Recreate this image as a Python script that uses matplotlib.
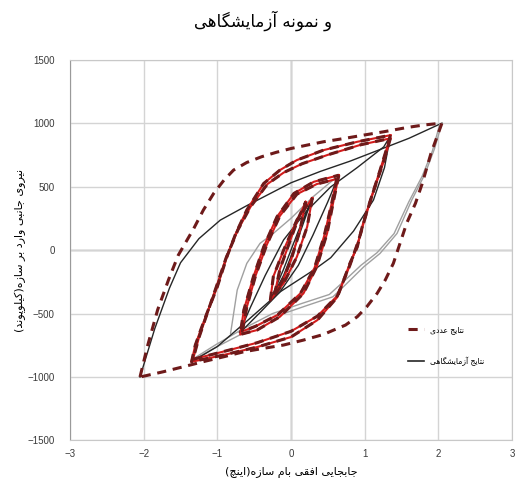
"""Hysteresis comparison: numerical vs. experimental (Persian labels)."""

import matplotlib
matplotlib.use("Agg")
import matplotlib.pyplot as plt  # noqa: E402
from matplotlib.lines import Line2D  # noqa: E402

DASH = "#6e1a1a"
RED = "#d21c1c"
BLACK = "#262626"
GRAY = "#a0a0a0"

# ---- numerical loops (dashed) ----
num5_x = [-2.05, -1.95, -1.81, -1.66, -1.53, -1.43, -1.32, -1.19, -1.05, -0.91, -0.78, -0.60,
          -0.40, -0.20, 0.0, 0.22, 0.44, 0.72, 0.99, 1.26, 1.57, 1.80, 2.05,
          1.90, 1.78, 1.69, 1.57, 1.48, 1.39, 1.28, 1.17, 1.03, 0.90, 0.74, 0.58, 0.44,
          0.17, -0.10, -0.37, -0.64, -0.91, -1.19, -1.46, -1.73, -2.05]
num5_y = [-1000, -760, -470, -230, -40, 60, 170, 315, 446, 551, 630, 690,
          735, 770, 800, 827, 853, 879, 906, 932, 965, 985, 1000,
          760, 520, 368, 210, 52, -105, -236, -341, -446, -525, -591, -630, -665,
          -709, -748, -774, -801, -840, -879, -919, -958, -1000]

num4_x = [1.35, 1.30, 1.21, 1.08, 0.98, 0.90, 0.80, 0.63, 0.36, 0.0, -0.46, -0.92, -1.35,
          -1.30, -1.22, -1.14, -1.0, -0.87, -0.75, -0.60, -0.37, -0.15, 0.08, 0.44, 0.90, 1.35]
num4_y = [905, 800, 630, 394, 213, 24, -105, -370, -551, -685, -764, -827, -880,
          -750, -620, -496, -289, -53, 130, 315, 525, 630, 709, 787, 853, 905]

num4b_x = [1.35, 1.26, 1.13, 1.02, 0.92, 0.80, 0.63, 0.36, 0.0, -0.46, -0.92, -1.33,
           -1.25, -1.15, -1.02, -0.88, -0.72, -0.55, -0.32, -0.10, 0.15, 0.50, 0.95, 1.35]
num4b_y = [880, 700, 480, 280, 80, -120, -360, -520, -640, -730, -800, -860,
           -690, -520, -300, -60, 160, 340, 520, 610, 680, 750, 830, 880]

num3_x = [0.65, 0.58, 0.49, 0.35, 0.17, -0.15, -0.46, -0.69,
          -0.64, -0.51, -0.37, -0.19, 0.04, 0.31, 0.65]
num3_y = [590, 394, 131, -131, -341, -525, -630, -665,
          -472, -210, 26, 262, 446, 538, 590]

num3b_x = [0.62, 0.55, 0.45, 0.32, 0.13, -0.18, -0.48, -0.66,
           -0.60, -0.48, -0.33, -0.15, 0.08, 0.35, 0.62]
num3b_y = [560, 360, 110, -140, -340, -510, -600, -640,
           -450, -200, 40, 270, 440, 520, 560]

num2_x = [0.29, 0.22, 0.08, -0.10, -0.28, -0.24, -0.10, 0.08, 0.29]
num2_y = [410, 184, -53, -262, -394, -210, 0, 236, 410]

num1_x = [0.20, 0.12, 0.0, -0.12, -0.22, -0.15, -0.02, 0.10, 0.20]
num1_y = [380, 150, -80, -250, -340, -150, 60, 250, 380]

# ---- experimental curves (solid) ----
exp_load5_x = [-2.05, -1.85, -1.65, -1.50, -1.25, -0.96, -0.60, -0.30, 0.0, 0.40, 0.80, 1.20, 1.60, 2.05]
exp_load5_y = [-1000, -620, -300, -100, 90, 236, 350, 440, 530, 620, 700, 790, 880, 1000]

exp_unl5_x = [2.05, 1.95, 1.82, 1.64, 1.44, 1.21, 0.99, 0.76, 0.57, 0.20, -0.20, -0.60, -1.00, -1.35]
exp_unl5_y = [1000, 800, 600, 394, 131, -26, -131, -262, -368, -440, -520, -640, -760, -870]

exp_unl5b_x = [2.02, 1.92, 1.78, 1.60, 1.40, 1.17, 0.95, 0.72, 0.52, 0.15, -0.25, -0.65, -1.02, -1.35]
exp_unl5b_y = [990, 780, 580, 380, 130, -20, -120, -245, -350, -420, -500, -620, -745, -865]

exp_load4_x = [-1.35, -1.00, -0.60, -0.15, 0.31, 0.54, 0.85, 1.12, 1.27, 1.35]
exp_load4_y = [-880, -760, -560, -330, -157, -60, 150, 394, 650, 900]

exp_unl4_x = [1.35, 1.26, 0.90, 0.54, 0.20, -0.10, -0.35, -0.55, -0.70]
exp_unl4_y = [900, 813, 650, 498, 300, 80, -200, -450, -650]

exp_gray3_x = [-0.82, -0.73, -0.60, -0.42, -0.24, 0.0, 0.30, 0.65]
exp_gray3_y = [-656, -315, -105, 53, 131, 250, 420, 590]

exp_unl3_x = [0.65, 0.50, 0.30, 0.10, -0.15, -0.40, -0.69]
exp_unl3_y = [590, 380, 120, -120, -330, -480, -650]

exp_in_x = [0.29, 0.10, -0.10, -0.28, -0.10, 0.10, 0.29]
exp_in_y = [410, 150, -150, -394, -200, 100, 410]

TITLE = "و نمونه آزمایشگاهی"
XLABEL = "جابجایی افقی بام سازه(اینچ)"
YLABEL = "نیروی جانبی وارد بر سازه(کیلوپوند)"
LEG_NUM = "نتایج عددی"
LEG_EXP = "نتایج آزمایشگاهی"

x_ticks = [-3, -2, -1, 0, 1, 2, 3]
y_ticks = [-1500, -1000, -500, 0, 500, 1000, 1500]

# minimal Arabic/Persian shaper: (isolated, final, initial, medial); two forms = right-joining
_FORMS = {
    "ا": ("\uFE8D", "\uFE8E"), "آ": ("\uFE81", "\uFE82"),
    "د": ("\uFEA9", "\uFEAA"), "ر": ("\uFEAD", "\uFEAE"),
    "ز": ("\uFEAF", "\uFEB0"), "و": ("\uFEED", "\uFEEE"),
    "ب": ("\uFE8F", "\uFE90", "\uFE91", "\uFE92"),
    "ت": ("\uFE95", "\uFE96", "\uFE97", "\uFE98"),
    "ج": ("\uFE9D", "\uFE9E", "\uFE9F", "\uFEA0"),
    "س": ("\uFEB1", "\uFEB2", "\uFEB3", "\uFEB4"),
    "ش": ("\uFEB5", "\uFEB6", "\uFEB7", "\uFEB8"),
    "ع": ("\uFEC9", "\uFECA", "\uFECB", "\uFECC"),
    "ف": ("\uFED1", "\uFED2", "\uFED3", "\uFED4"),
    "ق": ("\uFED5", "\uFED6", "\uFED7", "\uFED8"),
    "ل": ("\uFEDD", "\uFEDE", "\uFEDF", "\uFEE0"),
    "م": ("\uFEE1", "\uFEE2", "\uFEE3", "\uFEE4"),
    "ن": ("\uFEE5", "\uFEE6", "\uFEE7", "\uFEE8"),
    "ه": ("\uFEE9", "\uFEEA", "\uFEEB", "\uFEEC"),
    "ی": ("\uFBFC", "\uFBFD", "\uFBFE", "\uFBFF"),
    "پ": ("\uFB56", "\uFB57", "\uFB58", "\uFB59"),
    "چ": ("\uFB7A", "\uFB7B", "\uFB7C", "\uFB7D"),
    "ک": ("\uFB8E", "\uFB8F", "\uFB90", "\uFB91"),
    "گ": ("\uFB92", "\uFB93", "\uFB94", "\uFB95"),
}


def fa(text):
    out = []
    for i, ch in enumerate(text):
        forms = _FORMS.get(ch)
        if forms is None:
            out.append(ch)
            continue
        prev = text[i - 1] if i > 0 else ""
        nxt = text[i + 1] if i + 1 < len(text) else ""
        join_prev = prev in _FORMS and len(_FORMS[prev]) == 4
        join_next = len(forms) == 4 and nxt in _FORMS
        if join_prev and join_next:
            out.append(forms[3])
        elif join_prev:
            out.append(forms[1])
        elif join_next:
            out.append(forms[2])
        else:
            out.append(forms[0])
    vis = "".join(reversed(out))
    return vis.translate(str.maketrans("()", ")("))


plt.rcParams["font.family"] = ["Liberation Sans", "DejaVu Sans"]

fig = plt.figure(figsize=(5.15, 4.87), dpi=100)
ax = fig.add_axes([0.136, 0.0955, 0.858, 0.782])

# experimental (solid)
ax.plot(exp_load5_x, exp_load5_y, color=BLACK, lw=1.0)
ax.plot(exp_unl5_x, exp_unl5_y, color=GRAY, lw=1.0)
ax.plot(exp_unl5b_x, exp_unl5b_y, color=GRAY, lw=1.0)
ax.plot(exp_load4_x, exp_load4_y, color=BLACK, lw=1.0)
ax.plot(exp_unl4_x, exp_unl4_y, color=BLACK, lw=1.0)
ax.plot(exp_gray3_x, exp_gray3_y, color=GRAY, lw=1.0)
ax.plot(exp_unl3_x, exp_unl3_y, color=BLACK, lw=1.0)
ax.plot(exp_in_x, exp_in_y, color=BLACK, lw=1.0)

# red solid under the inner numerical loops
for xs, ys in [(num4_x, num4_y), (num4b_x, num4b_y), (num3_x, num3_y),
               (num3b_x, num3b_y), (num2_x, num2_y), (num1_x, num1_y)]:
    ax.plot(xs, ys, color=RED, lw=1.5)

# numerical (dashed)
for xs, ys in [(num5_x, num5_y), (num4_x, num4_y), (num4b_x, num4b_y),
               (num3_x, num3_y), (num3b_x, num3b_y), (num2_x, num2_y), (num1_x, num1_y)]:
    ax.plot(xs, ys, color=DASH, lw=2.2, dashes=(3.0, 2.2))

ax.set_xlim(-3, 3)
ax.set_ylim(-1500, 1500)
ax.set_xticks(x_ticks)
ax.set_yticks(y_ticks)
ax.grid(True, color="#d4d4d4", lw=1.0)
ax.set_axisbelow(True)
ax.axhline(0, color="#8a8a8a", lw=1.0, zorder=0.5)
ax.axvline(0, color="#8a8a8a", lw=1.0, zorder=0.5)
for s in ax.spines.values():
    s.set_color("#c8c8c8")
ax.spines["left"].set_color("#9a9a9a")
ax.tick_params(length=0, labelsize=7, colors="#3a3a3a")
ax.tick_params(axis="y", pad=11)
ax.tick_params(axis="x", pad=6)

ax.set_xlabel(fa(XLABEL), fontsize=8, labelpad=6, family=["DejaVu Sans"])
ax.set_ylabel(fa(YLABEL), fontsize=8, labelpad=1, family=["DejaVu Sans"])
fig.text(0.51, 0.958, fa(TITLE), ha="center", va="center", fontsize=12, family=["DejaVu Sans"])

handles = [Line2D([], [], color=DASH, lw=2.2, dashes=(3.0, 2.2)),
           Line2D([], [], color=BLACK, lw=1.2)]
ax.legend(handles, [fa(LEG_NUM), fa(LEG_EXP)], loc="center left",
          bbox_to_anchor=(0.75, 0.25), frameon=False, handlelength=2.0,
          labelspacing=3.0, prop={"family": "DejaVu Sans", "size": 5.5})

fig.savefig("out.png", dpi=100)
